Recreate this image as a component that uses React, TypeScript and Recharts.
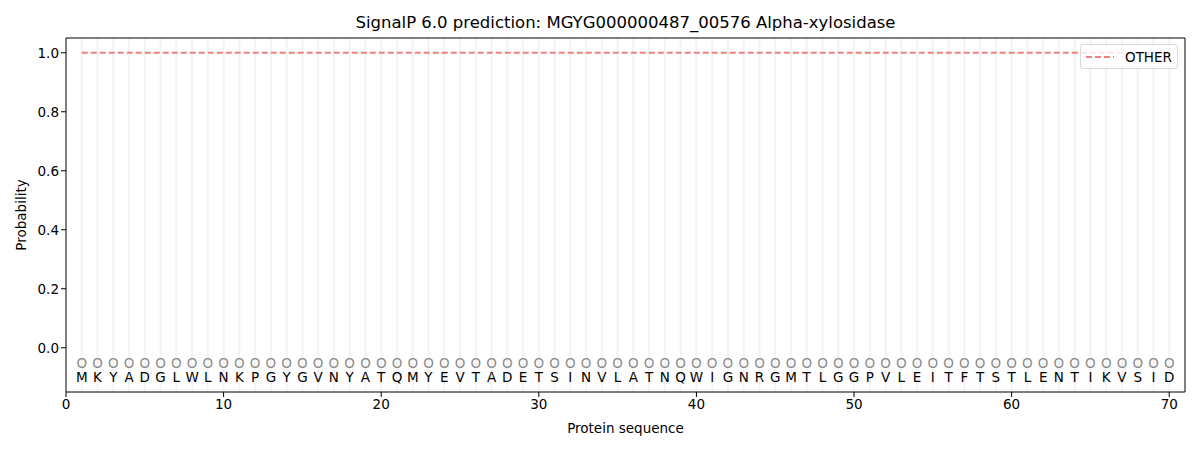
import {
  ComposedChart,
  Line,
  Scatter,
  XAxis,
  YAxis,
  ReferenceLine,
} from 'recharts'

const residues = 'MKYADGLWLNKPGYGVNYATQMYEVTADETSINVLATNQWIGNRGMTLGGPVLEITFTSTLENTIKVSID'.split('')
const positions = residues.map((_, i) => i + 1)
const otherProb = residues.map(() => 1.0)
const markerLevel = -0.05
const letterLevel = -0.1
const xTicks = [0, 10, 20, 30, 40, 50, 60, 70]
const yTicks = [0, 0.2, 0.4, 0.6, 0.8, 1.0]
const xDomain = [0, 71]
const yDomain = [-0.15, 1.05]

const font = 'DejaVu Sans, sans-serif'

const lineData = positions.map((p, i) => ({ pos: p, other: otherProb[i] }))
const markerData = positions.map((p) => ({ pos: p, y: markerLevel }))
const letterData = positions.map((p, i) => ({ pos: p, y: letterLevel, aa: residues[i] }))

function MarkerShape(props: any) {
  return (
    <text x={props.cx} y={props.cy} textAnchor="middle" dominantBaseline="central"
      fontSize={13.5} fontFamily={font} fill="#8c8c8c">O</text>
  )
}

function LetterShape(props: any) {
  return (
    <text x={props.cx} y={props.cy} textAnchor="middle" dominantBaseline="central"
      fontSize={13.5} fontFamily={font} fill="#000">{props.payload.aa}</text>
  )
}

export default function App() {
  return (
    <div style={{ position: 'absolute', left: 0, top: 0, width: 1200, height: 450, background: '#fff' }}>
      <div style={{
        position: 'absolute', top: 13, left: 66, width: 1119, textAlign: 'center',
        fontFamily: font, fontSize: 16.5, color: '#000',
      }}>
        SignalP 6.0 prediction: MGYG000000487_00576 Alpha-xylosidase
      </div>
      <ComposedChart width={1200} height={450} data={lineData}
        margin={{ top: 38, right: 15, bottom: 0, left: 0 }}>
        {positions.map((p) => (
          <ReferenceLine key={p} x={p} stroke="#f3f3f3" strokeWidth={2} />
        ))}
        <XAxis dataKey="pos" type="number" domain={xDomain} ticks={xTicks} allowDataOverflow
          height={58} stroke="#000" tickSize={5}
          tick={{ fill: '#000', fontSize: 13.5, fontFamily: font }}
          label={{ value: 'Protein sequence', position: 'insideBottom', offset: 17, fill: '#000', fontSize: 13.5, fontFamily: font }} />
        <YAxis type="number" domain={yDomain} ticks={yTicks} allowDataOverflow width={66}
          stroke="#000" tickSize={5} tickFormatter={(v: number) => v.toFixed(1)}
          tick={{ fill: '#000', fontSize: 13.5, fontFamily: font }}
          label={{ value: 'Probability', angle: -90, position: 'insideLeft', offset: 21, fill: '#000', fontSize: 13.5, fontFamily: font, style: { textAnchor: 'middle' } }} />
        <ReferenceLine x={xDomain[1]} stroke="#000" strokeWidth={1} />
        <ReferenceLine y={yDomain[1]} stroke="#000" strokeWidth={1} />
        <Line type="linear" dataKey="other" name="OTHER" stroke="#f08080" strokeWidth={2}
          strokeDasharray="6 3" dot={false} isAnimationActive={false} />
        <Scatter data={markerData} dataKey="y" shape={<MarkerShape />} isAnimationActive={false} legendType="none" />
        <Scatter data={letterData} dataKey="y" shape={<LetterShape />} isAnimationActive={false} legendType="none" />
      </ComposedChart>
      <div style={{
        position: 'absolute', top: 44, left: 1080, width: 98, height: 25, boxSizing: 'border-box',
        border: '1px solid #d9d9d9', borderRadius: 3, background: 'rgba(255,255,255,0.8)',
        display: 'flex', alignItems: 'center', paddingLeft: 5, fontFamily: font, fontSize: 13.5,
      }}>
        <svg width={28} height={10} style={{ marginRight: 11 }}>
          <line x1={0} y1={5} x2={28} y2={5} stroke="#f08080" strokeWidth={2} strokeDasharray="6 3" />
        </svg>
        <span>OTHER</span>
      </div>
    </div>
  )
}
